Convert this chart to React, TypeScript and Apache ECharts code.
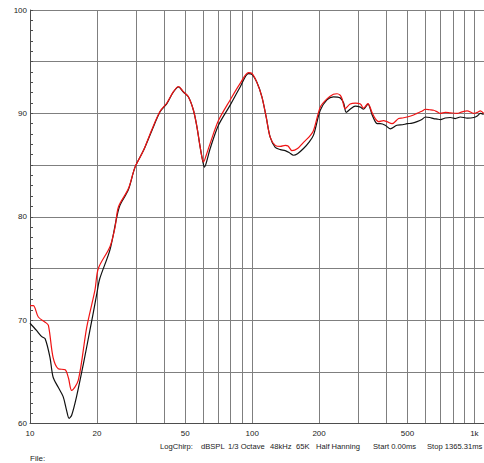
import React, { useEffect, useRef } from 'react';
import * as echarts from 'echarts';

// Black trace (frequency Hz, level dB)
const blackFreq = [10, 10.7, 11.3, 11.7, 12.3, 12.7, 13.4, 14.1, 14.6, 15.0, 15.4, 16.2, 17.4, 18.6, 19.3, 20.0, 20.6, 22.9, 24.6, 25.4, 27.7, 29.7, 32.4, 35.3, 38.5, 41.3, 44.2, 46.6, 49.0, 51.6, 54.4, 56.4, 58.3, 60.0, 61.0, 62.5, 64.7, 70.5, 79.6, 88.3, 96.2, 100, 105, 110.6, 115.6, 120.5, 127, 134, 140.8, 147, 153.5, 160, 170.2, 180, 188.8, 202.5, 217, 232, 249, 258, 265, 276, 291, 307, 317, 332, 346, 358, 365, 377, 397, 418, 448, 475, 498, 525, 552, 580, 602, 630, 656, 680, 703, 740, 780, 820, 865, 930, 993, 1030, 1064, 1101];
const blackDb = [69.7, 69.0, 68.4, 68.2, 66.4, 64.5, 63.5, 62.6, 61.3, 60.5, 60.8, 62.6, 65.8, 69.0, 70.8, 72.6, 74.0, 76.8, 80.0, 81.1, 82.6, 84.8, 86.4, 88.3, 90.15, 90.95, 92.07, 92.55, 92.07, 91.6, 90.3, 88.7, 86.75, 85.3, 84.8, 85.4, 86.6, 88.85, 90.8, 92.55, 93.85, 93.75, 93.0, 91.6, 89.65, 87.7, 86.7, 86.5, 86.4, 86.2, 85.95, 86.1, 86.6, 87.2, 87.9, 90.3, 91.3, 91.6, 91.5, 91.0, 90.1, 90.4, 90.7, 90.6, 90.4, 90.9, 89.9, 89.2, 89.0, 89.0, 88.85, 88.5, 88.85, 88.9, 89.0, 89.05, 89.2, 89.4, 89.65, 89.6, 89.5, 89.45, 89.4, 89.55, 89.6, 89.5, 89.65, 89.55, 89.6, 89.75, 90.0, 89.9];

// Red trace (frequency Hz, level dB)
const redFreq = [10, 10.35, 10.9, 11.7, 12.1, 12.7, 13.4, 14.4, 14.9, 15.4, 16.5, 18.0, 19.6, 20.3, 22.9, 24.15, 25.0, 27.7, 29.7, 32.4, 35.3, 38.5, 41.3, 44.2, 46.6, 49.0, 51.6, 54.4, 56.4, 58.3, 59.5, 60.35, 62.0, 64.7, 70.5, 79.6, 88.3, 96.2, 100, 105, 110.6, 115.6, 120.5, 127, 134, 140.8, 145, 150.9, 160, 170.2, 180, 188.8, 202.5, 217, 232, 241, 249, 254, 262, 276, 291, 307, 317, 332, 346, 358, 371, 390, 404, 426, 456, 475, 498, 525, 552, 580, 602, 630, 656, 680, 703, 740, 780, 836, 880, 927, 993, 1030, 1064, 1101];
const redDb = [71.4, 71.4, 70.3, 69.8, 69.5, 66.4, 65.3, 65.2, 64.4, 63.2, 64.2, 69.3, 72.9, 75.0, 77.1, 79.0, 80.95, 82.7, 84.8, 86.4, 88.4, 90.2, 91.0, 92.1, 92.6, 92.1, 91.6, 90.3, 88.7, 86.75, 85.7, 85.3, 85.9, 87.1, 89.3, 91.3, 92.9, 93.95, 93.85, 93.0, 91.6, 89.65, 87.7, 86.9, 86.8, 86.9, 86.85, 86.4, 86.6, 87.2, 87.7, 88.35, 90.6, 91.4, 91.85, 91.9, 91.75, 91.4, 90.46, 90.9, 91.0, 90.9, 90.5, 90.95, 90.1, 89.5, 89.2, 89.3, 89.2, 89.0, 89.5, 89.55, 89.65, 89.8, 90.0, 90.2, 90.4, 90.35, 90.3, 90.15, 90.0, 90.1, 90.05, 90.0, 90.15, 90.25, 90.0, 90.1, 90.25, 90.0];

const xGridValues = [10, 20, 30, 40, 50, 60, 70, 80, 90, 100, 200, 300, 400, 500, 600, 700, 800, 900, 1000];
const xLabelValues = [10, 20, 50, 100, 200, 500, 1000];
const yLabelValues = [60, 70, 80, 90, 100];

const infoPieces = ['LogChirp:', 'dBSPL', '1/3 Octave', '48kHz', '65K', 'Half Hanning', 'Start 0.00ms', 'Stop 1365.31ms'];
const infoX = [160, 201, 228, 270, 296, 316, 373, 427];
const fileLabel = 'File:';

const FONT = 'Liberation Sans, Arial, sans-serif';

export default function App() {
  const ref = useRef<HTMLDivElement>(null);
  useEffect(() => {
    if (!ref.current) return;
    const chart = echarts.init(ref.current, undefined, { renderer: 'svg' });
    const pair = (f: number[], d: number[]) => f.map((v, i) => [v, d[i]]);
    const gridColor = '#7f7f7f';
    const axisColor = '#4d4d4d';
    const textColor = '#1a1a1a';
    const graphics: any[] = infoPieces.map((t, i) => ({
      type: 'text',
      x: infoX[i],
      y: 446,
      style: { text: t, fill: textColor, font: `7.6px ${FONT}`, verticalAlign: 'middle' },
    }));
    graphics.push({
      type: 'text',
      x: 30,
      y: 458,
      style: { text: fileLabel, fill: textColor, font: `8px ${FONT}`, verticalAlign: 'middle' },
    });
    chart.setOption({
      animation: false,
      backgroundColor: '#ffffff',
      grid: { left: 30, right: 0, top: 10, bottom: 39.5, containLabel: false },
      xAxis: {
        type: 'log',
        logBase: 10,
        min: 10,
        max: 1105,
        axisLine: { show: true, onZero: false, lineStyle: { color: axisColor, width: 1 } },
        axisTick: { show: false, customValues: xGridValues },
        axisLabel: {
          customValues: xLabelValues,
          formatter: (v: number) => (v >= 1000 ? `${v / 1000}k` : String(v)),
          color: textColor,
          fontSize: 8,
          fontFamily: FONT,
          margin: 6,
          showMinLabel: true,
          showMaxLabel: true,
        },
        splitLine: { show: true, lineStyle: { color: gridColor, width: 1 } },
        minorSplitLine: { show: false },
      },
      yAxis: {
        type: 'value',
        min: 60,
        max: 100,
        interval: 5,
        axisLine: { show: true, onZero: false, lineStyle: { color: axisColor, width: 1 } },
        axisTick: { show: true, inside: true, length: 3, lineStyle: { color: axisColor } },
        minorTick: { show: true, splitNumber: 5, length: 3, lineStyle: { color: axisColor } },
        axisLabel: {
          customValues: yLabelValues,
          color: textColor,
          fontSize: 8,
          fontFamily: FONT,
          margin: 3,
        },
        splitLine: { show: true, lineStyle: { color: gridColor, width: 1 } },
      },
      series: [
        {
          type: 'line',
          data: pair(blackFreq, blackDb),
          showSymbol: false,
          symbol: 'none',
          smooth: 0.3,
          lineStyle: { color: '#111111', width: 1.2 },
          z: 2,
        },
        {
          type: 'line',
          data: pair(redFreq, redDb),
          showSymbol: false,
          symbol: 'none',
          smooth: 0.3,
          lineStyle: { color: '#f01414', width: 1.2 },
          z: 3,
        },
      ],
      graphic: graphics,
    });
    return () => chart.dispose();
  }, []);
  return <div ref={ref} style={{ position: 'fixed', left: 0, top: 0, width: 484, height: 463 }} />;
}
